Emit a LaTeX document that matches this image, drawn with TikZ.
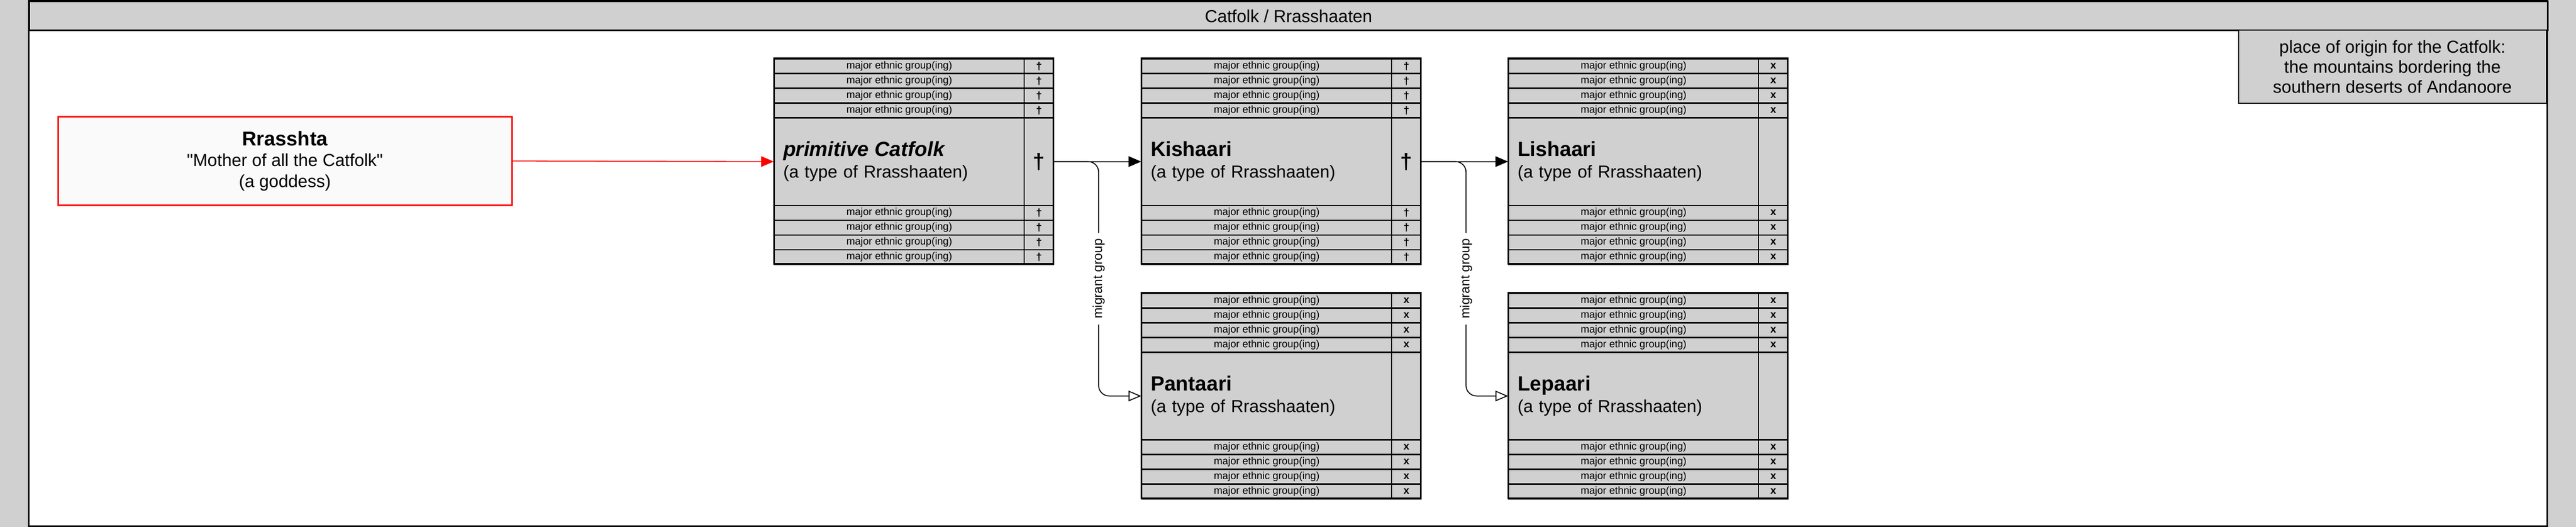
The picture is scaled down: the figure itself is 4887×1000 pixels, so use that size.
\documentclass[tikz,border=0pt]{standalone}
\usepackage{fontspec}
\setmainfont{Liberation Sans}
\newfontfamily\plainsans{Liberation Sans}
\usetikzlibrary{arrows.meta}
\definecolor{pgray}{RGB}{208,208,208}
\definecolor{offwhite}{RGB}{250,250,250}
\tikzset{
  cell/.style={draw=black, line width=2.2pt, fill=pgray, rectangle, inner sep=0pt, anchor=north west},
  rowtext/.style={cell, minimum width=474pt, minimum height=28pt, font=\fontsize{19.5}{20}\selectfont},
  rowmark/.style={cell, minimum width=56pt, minimum height=28pt, font=\fontsize{20}{20}\selectfont\bfseries},
  maincell/.style={cell, minimum width=474pt, minimum height=166pt, text width=440pt, inner xsep=17pt, inner ysep=0pt, align=left, font=\fontsize{33}{41}\selectfont},
  mainmark/.style={cell, minimum width=56pt, minimum height=166pt, font=\fontsize{41}{41}\selectfont\bfseries},
  conn/.style={draw=black, line width=1.8pt},
  solidtip/.style={-{Triangle[length=24pt,width=20pt]}},
  opentip/.style={-{Triangle[open,length=24pt,width=20pt,fill=white]}},
  migrant/.style={rotate=90, fill=white, inner xsep=11pt, inner ysep=3pt, font=\fontsize{24.6}{25}\selectfont},
}
\newcommand\ethtable[6]{%
  \foreach \i in {0,1,2,3}{
    \node[rowtext] (#1-a\i) at (#2, #3+\i*28) {major ethnic group(ing)};
    \node[rowmark] (#1-am\i) at (#2+474, #3+\i*28) {#5};
    \node[rowtext] (#1-b\i) at (#2, #3+278+\i*28) {major ethnic group(ing)};
    \node[rowmark] (#1-bm\i) at (#2+474, #3+278+\i*28) {#5};
  }
  \node[maincell] (#1) at (#2, #3+112) {{\fontsize{39}{41}\selectfont\bfseries #4}\\(a type of Rrasshaaten)};
  \node[mainmark] (#1-m) at (#2+474, #3+112) {#6};
  \draw[line width=3pt] (#2,#3) rectangle (#2+530, #3+390);
}
\begin{document}
\begin{tikzpicture}[x=1pt,y=-1pt]
\useasboundingbox (0,0) rectangle (4887,1000);
\fill[pgray] (0,0) rectangle (4887,1000);
\draw[fill=white, line width=3pt] (54,1.5) rectangle (4832,998.5);
\node (hdr) [draw, line width=3pt, fill=pgray, anchor=north west, minimum width=4778pt, minimum height=55pt, inner sep=0pt, font=\fontsize{33}{38}\selectfont] at (54,1.5) {Catfolk / Rrasshaaten};
\node (origin) [draw, line width=2.5pt, fill=pgray, anchor=north east, minimum width=584pt, minimum height=139pt, align=center, font=\fontsize{33}{38}\selectfont] at (4832,56) {place of origin for the Catfolk:\\the mountains bordering the\\southern deserts of Andanoore};
\node (goddess) [draw=red, line width=3pt, fill=offwhite, minimum width=861pt, minimum height=168pt, align=center, font=\plainsans\fontsize{33}{39.5}\selectfont] at (540.5,305.5) {{\fontsize{38}{39.5}\selectfont\bfseries Rrasshta}\\"Mother of all the Catfolk"\\(a goddess)};
\ethtable{prim}{1468}{110.5}{\itshape primitive Catfolk}{†}{†}
\ethtable{kish}{2165}{110.5}{Kishaari}{†}{†}
\ethtable{lish}{2861}{110.5}{Lishaari}{x}{}
\ethtable{pant}{2165}{555.3}{Pantaari}{x}{}
\ethtable{lep}{2861}{555.3}{Lepaari}{x}{}
\draw[conn, draw=red, fill=red, solidtip] (goddess.east) -- (prim.west);
\draw[conn, solidtip] (prim-m.east) -- (kish.west);
\draw[conn, opentip, rounded corners=20pt] (prim-m.east) -- ++(84,0) |- node[migrant, pos=0.25]{migrant group} (pant.west);
\draw[conn, solidtip] (kish-m.east) -- (lish.west);
\draw[conn, opentip, rounded corners=20pt] (kish-m.east) -- ++(84,0) |- node[migrant, pos=0.25]{migrant group} (lep.west);
\end{tikzpicture}
\end{document}
